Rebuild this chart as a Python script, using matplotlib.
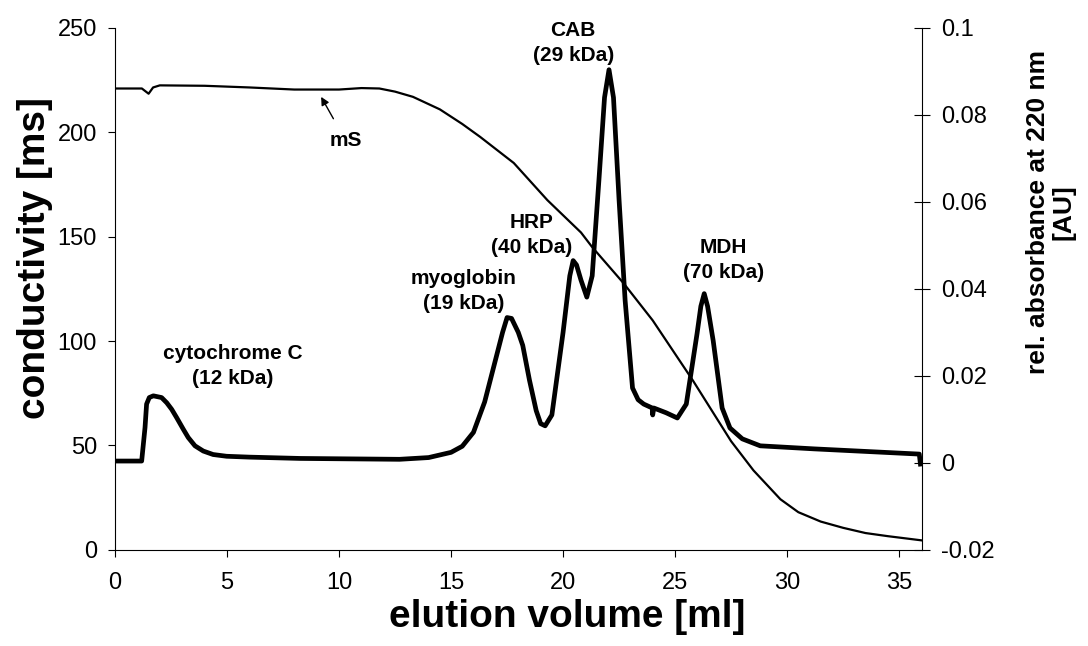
import numpy as np
import matplotlib.pyplot as plt

plt.rcParams['font.family'] = ['Liberation Sans', 'DejaVu Sans']

# conductivity trace (left axis, mS)
cond_x = [0.0, 1.2, 1.5, 1.7, 2.0, 4.0, 6.0, 8.0, 10.0, 11.0, 11.8, 12.5,
          13.3, 14.5, 15.5, 16.3, 17.8, 19.3, 20.8, 21.3, 22.7, 24.0, 25.8,
          27.5, 28.5, 29.7, 30.5, 31.5, 32.5, 33.5, 34.5, 36.0]
cond_y = [221.0, 221.0, 218.5, 221.5, 222.5, 222.3, 221.5, 220.5, 220.5, 221.2,
          221.0, 219.5, 217.0, 211.0, 204.0, 197.8, 185.3, 167.5, 152.0, 145.0,
          127.7, 109.9, 81.0, 52.0, 38.0, 24.2, 18.0, 13.5, 10.5, 8.0, 6.5, 4.5]

# absorbance trace (right axis, AU)
abs_x = [0.0, 1.19, 1.34, 1.41, 1.53, 1.71, 2.08, 2.31, 2.53, 2.75, 3.05,
         3.27, 3.57, 3.94, 4.38, 4.98, 6.0, 8.26, 12.7, 14.0, 15.0, 15.5,
         16.0, 16.5, 17.0, 17.3, 17.5, 17.7, 18.0, 18.2, 18.5, 18.8, 19.0,
         19.2, 19.5, 20.0, 20.3, 20.45, 20.6, 20.8, 21.06, 21.3, 21.6, 21.85,
         22.05, 22.25, 22.5, 22.77, 23.1, 23.35, 23.6, 23.98, 24.0, 24.05,
         24.6, 25.1, 25.5, 25.98, 26.15, 26.3, 26.45, 26.7, 27.1, 27.45, 28.0,
         28.8, 31.2, 35.9, 35.95]
abs_y = [0.0004, 0.0004, 0.0081, 0.0135, 0.0150, 0.0154, 0.0150, 0.0138,
         0.0123, 0.0104, 0.0077, 0.0058, 0.0039, 0.0027, 0.0019, 0.0015,
         0.0013, 0.0010, 0.0008, 0.0012, 0.0024, 0.0038, 0.007, 0.014, 0.024,
         0.030, 0.0334, 0.0332, 0.030, 0.027, 0.019, 0.012, 0.009, 0.0085,
         0.011, 0.030, 0.043, 0.0465, 0.0455, 0.042, 0.0381, 0.043, 0.065,
         0.084, 0.0904, 0.084, 0.0604, 0.0373, 0.0172, 0.0145, 0.0135, 0.0126,
         0.011, 0.0126, 0.0115, 0.0103, 0.0135, 0.0297, 0.036, 0.0389, 0.036,
         0.0281, 0.0126, 0.008, 0.0055, 0.0039, 0.0032, 0.002, -0.0003]

# peak labels: (text, x, y on the conductivity scale)
peak_labels = [
    ("cytochrome C\n(12 kDa)", 5.25, 88),
    ("myoglobin\n(19 kDa)", 15.55, 124),
    ("HRP\n(40 kDa)", 18.6, 151),
    ("CAB\n(29 kDa)", 20.45, 243),
    ("MDH\n(70 kDa)", 27.16, 139),
]

fig, ax = plt.subplots(figsize=(10.88, 6.46), dpi=100)
fig.subplots_adjust(left=0.1057, right=0.847, bottom=0.149, top=0.9567)

ax.plot(cond_x, cond_y, color='black', lw=1.6)
ax.set_xlim(0, 36)
ax.set_ylim(0, 250)
ax.set_xticks(np.arange(0, 36, 5))
ax.set_yticks(np.arange(0, 251, 50))
ax.tick_params(axis='both', labelsize=17, length=5, width=0.8, pad=8)
ax.tick_params(axis='x', pad=11)
ax.spines['top'].set_visible(False)
ax.spines['right'].set_visible(False)

ax2 = ax.twinx()
ax2.plot(abs_x, abs_y, color='black', lw=3.4, solid_joinstyle='round')
ax2.set_ylim(-0.02, 0.1)
ax2.set_yticks([-0.02, 0, 0.02, 0.04, 0.06, 0.08, 0.1])
ax2.set_yticklabels(['-0.02', '0', '0.02', '0.04', '0.06', '0.08', '0.1'])
ax2.tick_params(axis='y', labelsize=17, direction='inout', length=12,
                width=0.8, pad=8)
ax2.spines['top'].set_visible(False)
ax2.spines['left'].set_visible(False)
ax2.spines['bottom'].set_visible(False)

for txt, x, y in peak_labels:
    ax.text(x, y, txt, ha='center', va='center', fontsize=15,
            fontweight='bold', linespacing=1.4)

ax.annotate("mS", xy=(9.2, 217), xytext=(10.3, 196), ha='center',
            va='center', fontsize=15, fontweight='bold',
            arrowprops=dict(arrowstyle='-|>', color='black', lw=1,
                            shrinkA=8, shrinkB=0, mutation_scale=12))

fig.text(0.521, 0.045, "elution volume [ml]", ha='center', va='center',
         fontsize=28, fontweight='bold')
fig.text(0.032, 0.6, "conductivity [ms]", ha='center', va='center',
         rotation=90, fontsize=28, fontweight='bold')
fig.text(0.966, 0.672, "rel. absorbance at 220 nm\n[AU]", ha='center',
         va='center', rotation=90, fontsize=19, fontweight='bold',
         linespacing=1.1)

fig.savefig("out.png", dpi=100)
